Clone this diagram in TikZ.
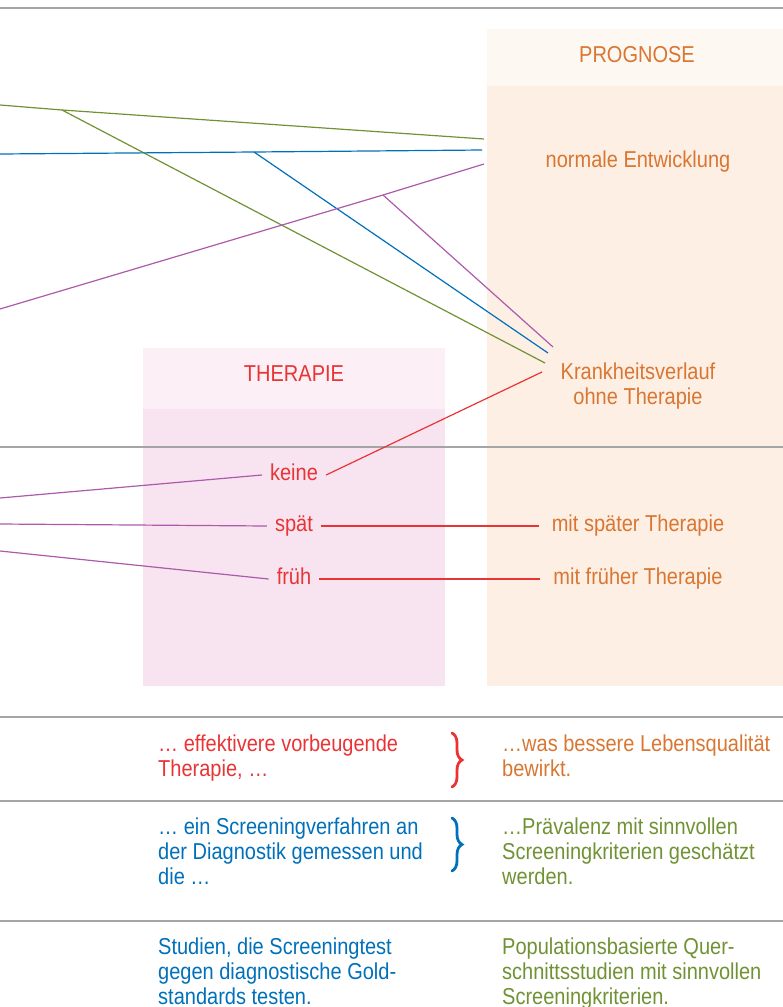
\documentclass[tikz,border=0pt]{standalone}
\usepackage{fontspec}
\setmainfont{Liberation Sans}[FakeStretch=0.87]
\usetikzlibrary{decorations.pathreplacing}
\definecolor{cOrange}{RGB}{217,118,50}
\definecolor{cRed}{RGB}{232,52,52}
\definecolor{cBlue}{RGB}{0,112,186}
\definecolor{cGreen}{RGB}{112,146,52}
\definecolor{cPurple}{RGB}{172,90,170}
\definecolor{cGray}{RGB}{165,165,165}
\definecolor{progHead}{RGB}{254,248,243}
\definecolor{progBody}{RGB}{253,239,228}
\definecolor{therHead}{RGB}{252,240,246}
\definecolor{therBody}{RGB}{248,228,240}
\begin{document}
\begin{tikzpicture}[x=1pt,y=-1pt,
  txt/.style={font=\fontsize{23}{25}\selectfont, inner sep=0pt},
  lbl/.style={txt, text height=16, text depth=5},
  para/.style={txt, anchor=north west, align=left},
  rule/.style={draw=cGray, line width=1.1},
  link/.style={line width=1.2},
  bracemark/.style={line width=2.8, line cap=round, decorate, decoration={brace, amplitude=10}}]
\useasboundingbox (0,0) rectangle (783,1007);
% background panels
\fill[progHead] (487,29) rectangle (783,86);
\fill[progBody] (487,86) rectangle (783,686);
\fill[therHead] (143,348) rectangle (445,409);
\fill[therBody] (143,409) rectangle (445,686);
% rules
\draw[rule] (0,8) -- (783,8);
\draw[rule] (0,447) -- (783,447);
\draw[rule] (0,717) -- (783,717);
\draw[rule] (0,801) -- (783,801);
\draw[rule] (0,921) -- (783,921);
% headings and labels
\node[txt, cOrange, anchor=base] (prog) at (637,62) {PROGNOSE};
\node[txt, cOrange, anchor=base] (norm) at (638,167) {normale Entwicklung};
\node[txt, cOrange, anchor=north, align=center] (kv) at (638,363) {Krankheitsverlauf\\ohne Therapie};
\node[txt, cRed, anchor=base] (ther) at (294,381) {THERAPIE};
\node[lbl, cRed, inner xsep=8] (keine) at (294,475) {keine};
\node[lbl, cRed, inner xsep=8] (spaet) at (294,526) {spät};
\node[lbl, cRed, inner xsep=8] (frueh) at (294,579) {früh};
\node[lbl, cOrange, inner xsep=13] (mspaet) at (638,526) {mit später Therapie};
\node[lbl, cOrange, inner xsep=13] (mfrueh) at (638,579) {mit früher Therapie};
% connector end points
\coordinate (gL) at (0,105);
\coordinate (gB) at (62,110);
\coordinate (gR) at (484,139);
\coordinate (bL) at (0,154);
\coordinate (bB) at (254,152);
\coordinate (bR) at (482,150);
\coordinate (pL) at (0,309);
\coordinate (pB) at (383,195);
\coordinate (pR) at (484,164);
\coordinate (kvG) at (545,363);
\coordinate (kvB) at (548,353);
\coordinate (kvP) at (553,347);
\coordinate (kvR) at (542,372);
\coordinate (k1) at (0,498);
\coordinate (k2) at (0,524);
\coordinate (k3) at (0,551);
% connectors
\draw[link, cGreen] (gL) -- (gB) -- (gR);
\draw[link, cGreen] (gB) -- (kvG);
\draw[link, cBlue] (bL) -- (bB) -- (bR);
\draw[link, cBlue] (bB) -- (kvB);
\draw[link, cPurple] (pL) -- (pB) -- (pR);
\draw[link, cPurple] (pB) -- (kvP);
\draw[link, cRed] (keine.east) -- (kvR);
\draw[link, cPurple] (k1) -- (keine.west);
\draw[link, cPurple] (k2) -- (spaet.west);
\draw[link, cPurple] (k3) -- (frueh.west);
\draw[link, cRed] (spaet.east) -- (mspaet.west);
\draw[link, cRed] (frueh.east) -- (mfrueh.west);
% bottom texts
\node[para, cRed] (t1) at (158,735) {… effektivere vorbeugende\\Therapie, …};
\node[para, cOrange] (t2) at (502,735) {…was bessere Lebensqualität\\bewirkt.};
\node[para, cBlue] (t3) at (158,818) {… ein Screeningverfahren an\\der Diagnostik gemessen und\\die …};
\node[para, cGreen] (t4) at (502,818) {…Prävalenz mit sinnvollen\\Screeningkriterien geschätzt\\werden.};
\node[para, cBlue] (t5) at (158,938) {Studien, die Screeningtest\\gegen diagnostische Gold-\\standards testen.};
\node[para, cGreen] (t6) at (502,938) {Populationsbasierte Quer-\\schnittsstudien mit sinnvollen\\Screeningkriterien.};
% braces
\draw[bracemark, cRed] (452,733) -- (452,787);
\draw[bracemark, cBlue] (452,818) -- (452,871);
\end{tikzpicture}
\end{document}
